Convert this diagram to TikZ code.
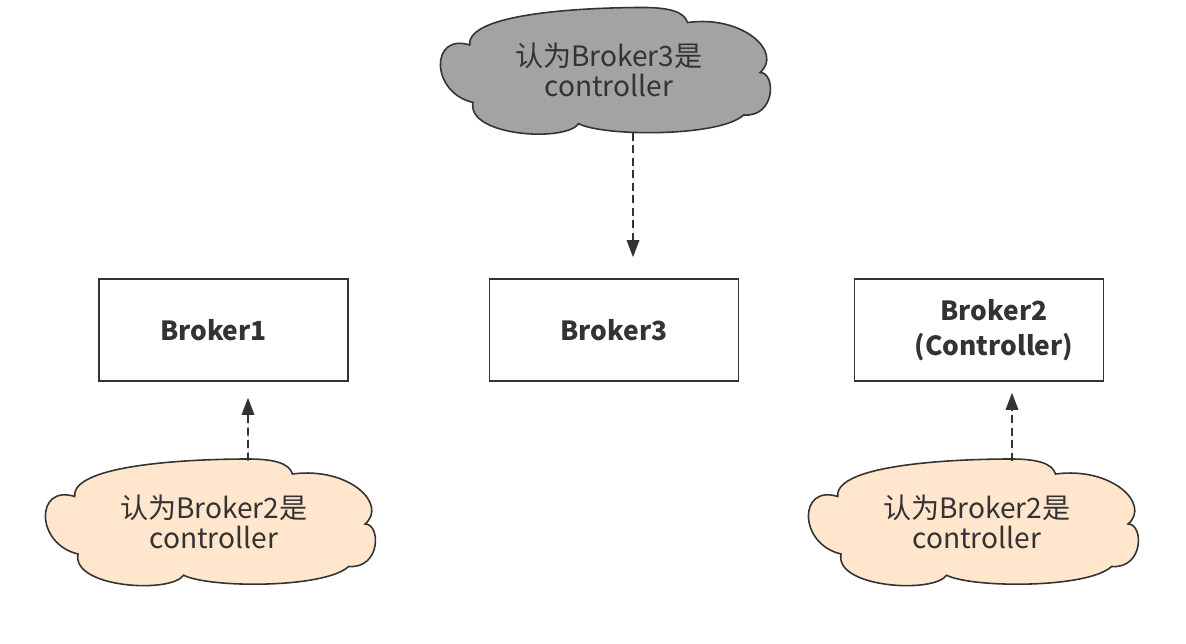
\documentclass[tikz,border=0pt]{standalone}
\usepackage{fontspec}
\setmainfont{Noto Sans CJK SC}
\usepackage{xcolor}
\usepackage{tikz}
\usetikzlibrary{arrows.meta,positioning,calc}
\definecolor{linec}{RGB}{51,51,51}
\definecolor{textc}{RGB}{51,51,51}
\definecolor{cloudgrey}{RGB}{163,163,163}
\definecolor{cloudpeach}{RGB}{255,230,204}
\tikzset{
  brokerbox/.style={draw=linec,line width=0.9pt,fill=white,
                    minimum width=4.98cm,minimum height=2.04cm,align=center,
                    font=\bfseries\fontsize{15pt}{20pt}\selectfont,text=textc},
  cloudtext/.style={minimum width=6.6cm,minimum height=2.5cm,inner sep=0pt,align=center,
                    font=\fontsize{16pt}{17pt}\selectfont,text=textc},
  greycloud/.style={fill=cloudgrey,draw=linec,line width=0.9pt},
  peachcloud/.style={fill=cloudpeach,draw=linec,line width=0.9pt},
  hint/.style={-{Triangle[length=3.4mm,width=2.5mm]},dash pattern=on 1.6mm off 0.9mm,
               line width=0.9pt,draw=linec,fill=linec},
  puff/.pic={
    \path[pic actions,xscale=330,yscale=125]
      (-0.41,-0.20) .. controls (-0.53,-0.30) and (-0.53,0.18) .. (-0.40,0.26)
      .. controls (-0.42,0.53) and (-0.12,0.58) .. (-0.08,0.43)
      .. controls (0.0,0.535) and (0.35,0.535) .. (0.42,0.36)
      .. controls (0.518,0.38) and (0.518,0.02) .. (0.47,0.02)
      .. controls (0.54,-0.14) and (0.42,-0.44) .. (0.25,-0.38)
      .. controls (0.24,-0.47) and (0.19,-0.5) .. (0.115,-0.5)
      .. controls (-0.05,-0.5) and (-0.42,-0.46) .. (-0.41,-0.20)
      -- cycle;
  },
}
\begin{document}
\begin{tikzpicture}[x=0.02cm,y=-0.02cm]
  \useasboundingbox (0,0) rectangle (1186,644);
  % brokers
  \node[brokerbox] (b1) at (223.5,330) {Broker1\hspace*{0.4cm}};
  \node[brokerbox] (b3) at (614,330) {Broker3};
  \node[brokerbox] (b2) at (979,330) {\hspace*{0.6cm}Broker2\\\hspace*{0.6cm}(Controller)};
  % what each broker believes
  \pic[greycloud] at (605,70) {puff};
  \node[cloudtext] (ct) at (605,70) {\hspace*{0.15cm}认为Broker3是\\\hspace*{0.15cm}controller};
  \pic[peachcloud] at (210,521.5) {puff};
  \node[cloudtext] (cl) at (210,521.5) {\hspace*{0.15cm}认为Broker2是\\\hspace*{0.15cm}controller};
  \pic[peachcloud] at (973,521.5) {puff};
  \node[cloudtext] (cr) at (973,521.5) {\hspace*{0.15cm}认为Broker2是\\\hspace*{0.15cm}controller};
  \draw[hint] ($(ct.south)+(28,0)$) -- ($(b3.north)+(19,-21)$);
  \draw[hint] ($(cl.north)+(38,2)$) -- ($(b1.south)+(24.5,16)$);
  \draw[hint] ($(cr.north)+(39,2)$) -- ($(b2.south)+(33,11)$);
\end{tikzpicture}
\end{document}
